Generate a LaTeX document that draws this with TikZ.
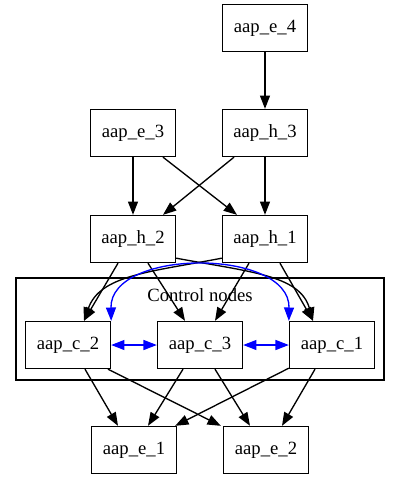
\documentclass[tikz,border=0pt]{standalone}
\usepackage{fontspec}
\setmainfont{Liberation Serif}
\usetikzlibrary{arrows.meta,calc}
\begin{document}
\begin{tikzpicture}[x=0.75pt,y=-0.75pt,
  box/.style={draw=black,line width=1pt,minimum width=63.75pt,minimum height=35.25pt,inner sep=0pt,font=\fontsize{14pt}{16pt}\selectfont},
  edge/.style={draw=black,line width=1pt,-{Triangle[length=10pt,width=7.5pt]}},
  bedge/.style={draw=blue,line width=1pt,{Triangle[length=10pt,width=7.5pt]}-{Triangle[length=10pt,width=7.5pt]}}]
\useasboundingbox (0,0) rectangle (400,480);
% cluster
\node[draw=black,line width=1pt,minimum width=276pt,minimum height=76.5pt,inner sep=0pt] (cl) at (200,329) {};
\node[font=\fontsize{14pt}{16pt}\selectfont,inner sep=0pt] (cllabel) at (200,295) {Control nodes};
% nodes
\node[box] (e4) at (265,28) {aap\_e\_4};
\node[box] (e3) at (133,133) {aap\_e\_3};
\node[box] (h3) at (265,133) {aap\_h\_3};
\node[box] (h2) at (133,239) {aap\_h\_2};
\node[box] (h1) at (265,239) {aap\_h\_1};
\node[box] (c2) at (68,345) {aap\_c\_2};
\node[box] (c3) at (200,345) {aap\_c\_3};
\node[box] (c1) at (332,345) {aap\_c\_1};
\node[box] (e1) at (134,450) {aap\_e\_1};
\node[box] (e2) at (266,450) {aap\_e\_2};
% top edges
\draw[edge] (e4) -- (h3);
\draw[edge] (e3) -- (h2);
\draw[edge] ($(e3.south)+(30,0)$) -- ($(h1.north)+(-28,0)$);
\draw[edge] ($(h3.south)+(-31,0)$) -- ($(h2.north)+(30,0)$);
\draw[edge] (h3) -- (h1);
% h -> c
\draw[edge] ($(h2.south)+(-15,0)$) -- ($(c2.north)+(16,0)$);
\draw[edge] ($(h2.south)+(15,0)$) -- ($(c3.north)+(-15,0)$);
\draw[edge] ($(h2.south east)+(0,-5)$) .. controls (250,272) and (300,275) .. ($(c1.north)+(-19,0)$);
\draw[edge] ($(h1.south west)+(0,-5)$) .. controls (150,272) and (100,275) .. ($(c2.north)+(16,0)$);
\draw[edge] ($(h1.south)+(-16,0)$) -- ($(c3.north)+(15,0)$);
\draw[edge] ($(h1.south)+(15,0)$) -- ($(c1.north)+(-19,0)$);
% blue
\draw[bedge] (c2.north east) .. controls (110,248) and (290,248) .. (c1.north west);
\draw[bedge] (c2.east) -- (c3.west);
\draw[bedge] (c3.east) -- (c1.west);
% c -> e
\draw[edge] ($(c2.south)+(17,0)$) -- ($(e1.north)+(-16,0)$);
\draw[edge] ($(c2.south)+(40,0)$) -- ($(e2.north west)+(-2,0)$);
\draw[edge] ($(c3.south)+(-17,0)$) -- ($(e1.north)+(14,0)$);
\draw[edge] ($(c3.south)+(15,0)$) -- ($(e2.north)+(-16,0)$);
\draw[edge] ($(c1.south west)+(0,-1)$) -- ($(e1.north east)+(-2,0)$);
\draw[edge] ($(c1.south)+(-17,0)$) -- ($(e2.north)+(16,0)$);
\end{tikzpicture}
\end{document}
